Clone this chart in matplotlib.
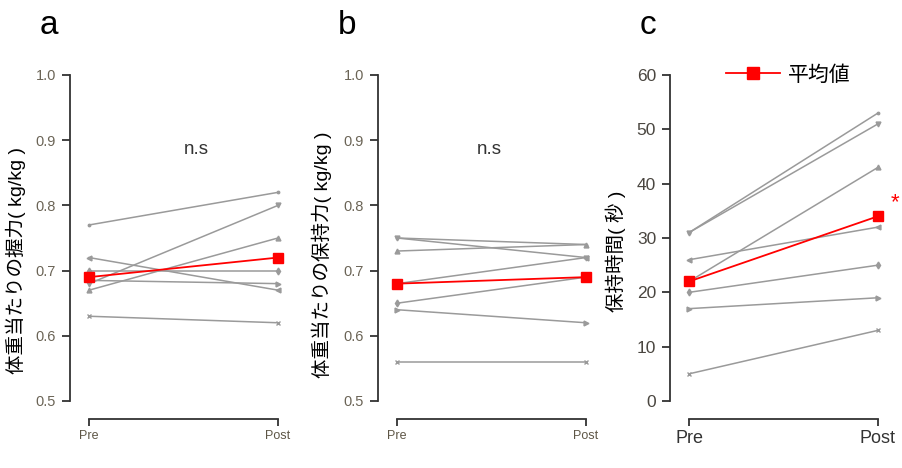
import matplotlib
matplotlib.use("Agg")
import matplotlib.pyplot as plt
from matplotlib.lines import Line2D

plt.rcParams['font.family'] = ['Liberation Sans', 'Noto Sans CJK JP', 'DejaVu Sans']

# ==============================
# data
# ==============================
conditions = ["Pre", "Post"]

grip_pre = [0.77, 0.68, 0.67, 0.72, 0.70, 0.685, 0.63]
grip_post = [0.82, 0.80, 0.75, 0.67, 0.70, 0.68, 0.62]
grip_mean = [0.69, 0.72]

hold_pre = [0.75, 0.75, 0.73, 0.68, 0.65, 0.64, 0.56]
hold_post = [0.74, 0.72, 0.74, 0.72, 0.69, 0.62, 0.56]
hold_mean = [0.68, 0.69]

time_pre = [31, 31, 22, 26, 20, 17, 5]
time_post = [53, 51, 43, 32, 25, 19, 13]
time_mean = [22, 34]

markers = ['.', 'v', '^', '<', 'd', '>', 'x']

gray = '#9a9a9a'
red = '#ff0000'

fig = plt.figure(figsize=(9.03, 4.68), dpi=100)

W, H = 903, 468
def add_ax(left_px):
    return fig.add_axes([left_px / W, 1 - 401 / H, 215 / W, 326 / H])

def style(ax, ylim, yticks, tickfs, xfs, fmt):
    ax.set_xlim(-19 / 188, 1 + 7 / 188)
    ax.set_ylim(*ylim)
    for s in ['top', 'right']:
        ax.spines[s].set_visible(False)
    ax.spines['bottom'].set_position(('outward', 13))
    ax.spines['bottom'].set_bounds(0, 1)
    ax.spines['left'].set_bounds(ylim[0], ylim[1])
    for s in ['left', 'bottom']:
        ax.spines[s].set_linewidth(1.3)
        ax.spines[s].set_color('#333333')
    ax.set_yticks(yticks)
    ax.set_yticklabels([fmt.format(v) for v in yticks])
    ax.set_xticks([0, 1])
    ax.set_xticklabels(conditions)
    ax.tick_params(axis='y', direction='out', length=6, width=1.3, color='#333333',
                   labelsize=tickfs, labelcolor='#6b6456', pad=4)
    ax.tick_params(axis='x', direction='out', length=5, width=1.3, color='#333333',
                   labelsize=xfs, labelcolor='#5e5646', pad=3)

def draw(ax, pre, post, mean):
    for i, (a, b) in enumerate(zip(pre, post)):
        ax.plot([0, 1], [a, b], color=gray, lw=1.1, marker=markers[i % len(markers)],
                ms=3.5, mfc=gray, mec=gray, zorder=2)
    ax.plot([0, 1], mean, color=red, lw=1.3, marker='s', ms=7, mfc=red, mec=red, zorder=3)

# a
ax1 = add_ax(70)
draw(ax1, grip_pre, grip_post, grip_mean)
style(ax1, (0.5, 1.0), [0.5, 0.6, 0.7, 0.8, 0.9, 1.0], 10.5, 9, "{:.1f}")
ax1.set_ylabel("体重当たりの握力( kg/kg )", fontsize=14)
ax1.yaxis.set_label_coords(-0.205, 0.43)
ax1.text(0.57, 0.885, "n.s", fontsize=13.5, ha='center', va='center', color='#333333')

# b
ax2 = add_ax(378)
draw(ax2, hold_pre, hold_post, hold_mean)
style(ax2, (0.5, 1.0), [0.5, 0.6, 0.7, 0.8, 0.9, 1.0], 10.5, 9, "{:.1f}")
ax2.set_ylabel("体重当たりの保持力( kg/kg )", fontsize=14)
ax2.yaxis.set_label_coords(-0.214, 0.45)
ax2.text(0.49, 0.885, "n.s", fontsize=13.5, ha='center', va='center', color='#333333')

# c
ax3 = add_ax(670)
draw(ax3, time_pre, time_post, time_mean)
style(ax3, (0, 60), [0, 10, 20, 30, 40, 50, 60], 12.5, 13, "{:d}")
ax3.tick_params(axis='y', labelcolor='#4a4640')
ax3.tick_params(axis='x', labelcolor='#333333')
ax3.set_ylabel("保持時間( 秒 )", fontsize=14)
ax3.yaxis.set_label_coords(-0.205, 0.46)
ax3.text(1.09, 36.5, "*", fontsize=16, color=red, ha='center', va='center')
handle = Line2D([], [], color=red, lw=1.3, marker='s', ms=9, mfc=red, mec=red)
ax3.legend([handle], ["平均値"], loc='center', bbox_to_anchor=(0.55, 1.0),
           frameon=False, fontsize=15, handlelength=2.6, handletextpad=0.4)

fig.text(40 / W, 1 - 25 / H, "a", fontsize=24, va='center', ha='left')
fig.text(338 / W, 1 - 25 / H, "b", fontsize=24, va='center', ha='left')
fig.text(640 / W, 1 - 25 / H, "c", fontsize=24, va='center', ha='left')

fig.savefig("out.png", dpi=100)
